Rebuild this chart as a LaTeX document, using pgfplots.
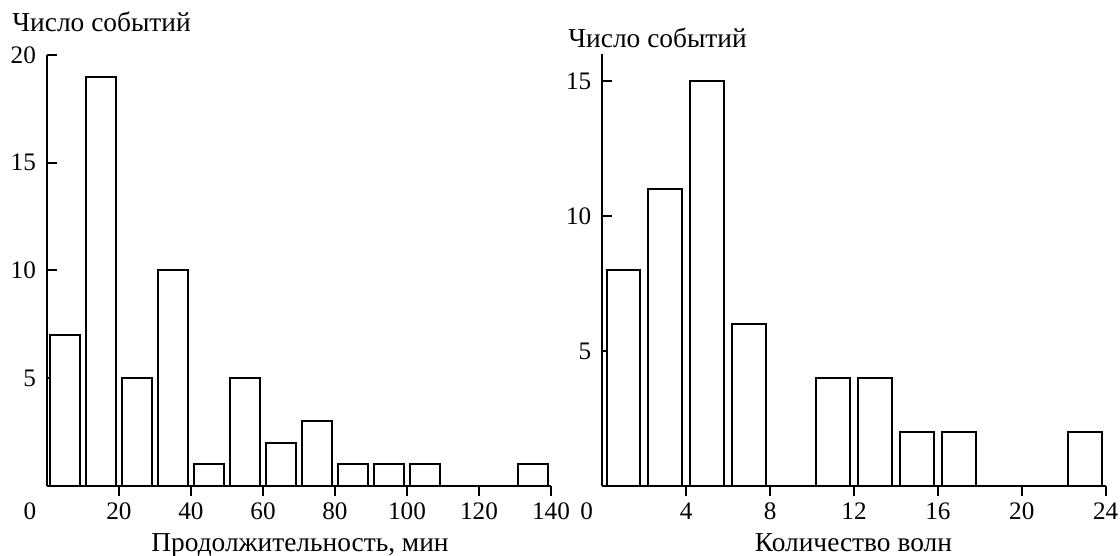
\documentclass[border=0pt]{standalone}
\usepackage{fontspec}
\setmainfont{Liberation Serif}
\usepackage{pgfplots}
\pgfplotsset{compat=1.18}
\newcommand{\fs}{\fontsize{12.6}{15}\selectfont}
\newcommand{\fl}{\fontsize{13.7}{16}\selectfont}
\pgfplotsset{
  myaxis/.style={
    scale only axis,
    anchor=south west,
    axis lines=left,
    axis line style={-, line width=1pt, black},
    tick align=inside,
    major tick length=5pt,
    tick style={line width=1pt, black},
    /pgf/number format/assume math mode=true,
    tick label style={font=\fs},
    yticklabel style={xshift=-2pt},
    ymin=0,
    clip=false,
    ybar,
    bar shift=0pt,
  },
  mybar/.style={draw=black, fill=white, line width=1pt},
}
\begin{document}
\begin{tikzpicture}
\path[use as bounding box] (0,0) rectangle (560pt,278pt);
\begin{axis}[myaxis,
  at={(23.5pt,35pt)}, width=252pt, height=215.5pt,
  xmin=0, xmax=140, ymax=20,
  xtick={20,40,...,140}, ytick={5,10,15,20},
  extra x ticks={0}, extra x tick style={major tick length=0pt, xticklabel style={xshift=-8.5pt, yshift=-5pt}},
  bar width=8.2,
]
\addplot[mybar] coordinates {(5,7) (15,19) (25,5) (35,10) (45,1) (55,5) (65,2) (75,3) (85,1) (95,1) (105,1) (135,1)};
\end{axis}
\begin{axis}[myaxis,
  at={(301.15pt,35pt)}, width=251.7pt, height=215.85pt,
  xmin=0, xmax=24, ymax=16,
  xtick={4,8,...,24}, ytick={5,10,15},
  extra x ticks={0}, extra x tick style={major tick length=0pt, xticklabel style={xshift=-7.8pt, yshift=-5pt}},
  bar width=1.6,
]
\addplot[mybar] coordinates {(1,8) (3,11) (5,15) (7,6) (11,4) (13,4) (15,2) (17,2) (23,2)};
\end{axis}
\node[anchor=base west, inner sep=0pt, font=\fl] at (6pt,262pt) {Число событий};
\node[anchor=base west, inner sep=0pt, font=\fl] at (284pt,254pt) {Число событий};
\node[anchor=base, inner sep=0pt, font=\fl] at (150pt,2.15pt) {Продолжительность, мин};
\node[anchor=base, inner sep=0pt, font=\fl] at (426.7pt,2.15pt) {Количество волн};
\end{tikzpicture}
\end{document}
